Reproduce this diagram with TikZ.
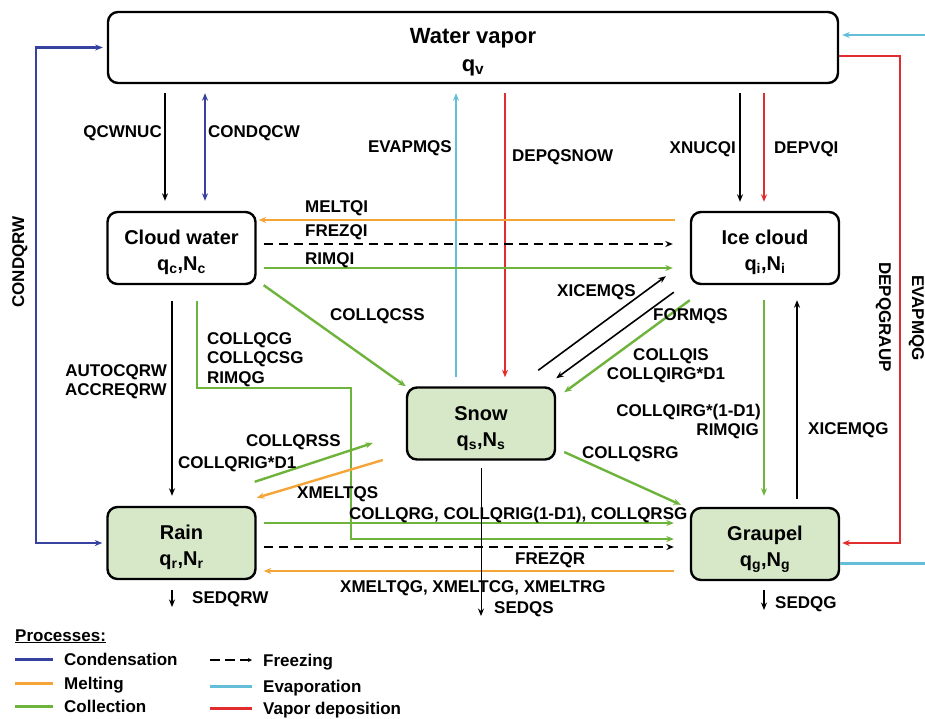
\documentclass[tikz,border=0pt]{standalone}
\usepackage{fontspec}
\setmainfont{Liberation Sans}
\usetikzlibrary{arrows.meta,calc}

\definecolor{condblue}{RGB}{55,65,160}
\definecolor{meltorange}{RGB}{245,165,55}
\definecolor{collgreen}{RGB}{110,180,60}
\definecolor{evapblue}{RGB}{100,190,215}
\definecolor{depored}{RGB}{225,45,45}
\definecolor{boxgreen}{RGB}{214,232,200}

% title line and q,N line of a species box
\newcommand{\species}[2]{\rule{0pt}{28pt}#1\\q\textsubscript{#2},N\textsubscript{#2}\rule[-9pt]{0pt}{9pt}}

\tikzset{
  box/.style={draw, line width=2.4pt, rounded corners=10pt, align=center, inner ysep=0pt,
    minimum width=148pt, minimum height=72pt, font=\bfseries\fontsize{20}{26}\selectfont},
  gbox/.style={box, fill=boxgreen},
  lab/.style={font=\bfseries\fontsize{17}{20}\selectfont, inner sep=0pt, text height=12pt, text depth=0pt},
  tip/.style={-{Stealth[length=7.5pt,width=6pt]}},
  btip/.style={{Stealth[length=7.5pt,width=6pt]}-{Stealth[length=7.5pt,width=6pt]}},
  blk/.style={tip, line width=1.6pt},
  sed/.style={tip, line width=1pt},
  cond/.style={tip, line width=2.4pt, condblue},
  melt/.style={tip, line width=2.4pt, meltorange},
  coll/.style={tip, line width=2.4pt, collgreen},
  evap/.style={tip, line width=2.4pt, evapblue},
  depo/.style={tip, line width=2.4pt, depored},
  frez/.style={tip, line width=1.8pt, dash pattern=on 9pt off 6pt}
}

\begin{document}
\begin{tikzpicture}[x=1pt,y=-1pt]
\useasboundingbox (0,0) rectangle (925,718);

% species
\node[box, minimum width=730pt, minimum height=71pt, font=\bfseries\fontsize{22}{28}\selectfont] (wv) at (473,47.5)
  {\rule{0pt}{28pt}Water vapor\\q\textsubscript{v}\rule[-9pt]{0pt}{9pt}};
\node[box] (cw) at (181.5,248) {\species{Cloud water}{c}};
\node[box] (ic) at (765,248) {\species{Ice cloud}{i}};
\node[gbox] (sn) at (481,423.5) {\species{Snow}{s}};
\node[gbox] (rn) at (181.5,543) {\species{Rain}{r}};
\node[gbox] (gr) at (765,544) {\species{Graupel}{g}};

\coordinate (qcg) at (351,388);
\coordinate (cqrw) at (36,47.5);
\coordinate (dgr) at (900,543);
\coordinate (eg1) at (925,563.5);
\coordinate (eg2) at (925,35);
\coordinate (sedqs) at (481,616);
\coordinate (sedqrw) at (172,607);
\coordinate (sedqg) at (764,610);

% vapor <-> cloud water / snow / ice
\draw[blk] ($(cw.north |- wv.south)+(-16.5,9)$) -- ([shift={(-16.5,-10)}]cw.north);
\draw[cond,btip] ($(cw.north |- wv.south)+(23.5,9)$) -- ([shift={(23.5,-10)}]cw.north);
\draw[evap] ([shift={(-25,-9)}]sn.north) -- ($(sn.north |- wv.south)+(-25,9)$);
\draw[depo] ($(sn.north |- wv.south)+(24,9)$) -- ([shift={(24,-9)}]sn.north);
\draw[blk] ($(ic.north |- wv.south)+(-25,9)$) -- ([shift={(-25,-9)}]ic.north);
\draw[depo] ($(ic.north |- wv.south)+(-1,9)$) -- ([shift={(-1,-9)}]ic.north);

% cloud water <-> ice
\draw[melt] ([shift={(-15,-28)}]ic.west) -- ([shift={(2,-28)}]cw.east);
\draw[frez] ([shift={(7,-4)}]cw.east) -- ([shift={(-17,-4)}]ic.west);
\draw[coll] ([shift={(7,20)}]cw.east) -- ([shift={(-17,20)}]ic.west);

% cloud water -> snow, graupel, rain
\draw[coll] ([shift={(7,0)}]cw.south east) -- (sn.north west);
\draw[coll] ([shift={(15.5,16)}]cw.south) |- (qcg) |- ([shift={(-16,-5)}]gr.west);
\draw[blk] ([shift={(-9.5,16)}]cw.south) -- ([shift={(-9.5,-10)}]rn.north);

% rain <-> snow, graupel
\draw[coll] ([shift={(-2,-24)}]rn.north east) -- ([shift={(-33,19.5)}]sn.west);
\draw[melt] ([shift={(-23,36.5)}]sn.west) -- ([shift={(0,-8)}]rn.north east);
\draw[coll] ([shift={(7,-20)}]rn.east) -- ([shift={(-16,-21)}]gr.west);
\draw[frez] ([shift={(7,4)}]rn.east) -- ([shift={(-16,3)}]gr.west);
\draw[melt] ([shift={(-16,27)}]gr.west) -- ([shift={(7,28)}]rn.east);

% ice <-> snow, graupel
\draw[blk] ([shift={(-18,-16)}]sn.north east) -- ([shift={(-24,-9)}]ic.south west);
\draw[blk] ([shift={(-16,7)}]ic.south west) -- ([shift={(0,-8)}]sn.north east);
\draw[coll] ([shift={(0,15)}]ic.south west) -- ([shift={(8,6)}]sn.north east);
\draw[coll] ([shift={(-1,15)}]ic.south) -- ([shift={(-1,-11)}]gr.north);
\draw[blk] ([shift={(32,-8)}]gr.north) -- ([shift={(32,15)}]ic.south);
\draw[coll] ([shift={(8,28.5)}]sn.east) -- ([shift={(-9,-2)}]gr.north west);

% outer loops
\draw[cond,btip] ([xshift=-4pt]rn.west) -| (cqrw) -- ([xshift=-4pt]wv.west);
\draw[depo] ([shift={(0,8.5)}]wv.east) -| (dgr) -- ([shift={(2,-1)}]gr.east);
\draw[evap,-] ([shift={(0,19.5)}]gr.east) -- (eg1);
\draw[evap] (eg2) -- ([shift={(3,-12.5)}]wv.east);

% sedimentation
\draw[sed] ([shift={(0,7)}]sn.south) -- (sedqs);
\draw[blk] ([shift={(-9.5,10)}]rn.south) -- (sedqrw);
\draw[blk] ([shift={(-1,9)}]gr.south) -- (sedqg);

% labels
\node[lab, anchor=east] (l-qcwnuc) at (162,131) {QCWNUC};
\node[lab, anchor=west] (l-condqcw) at (208,131) {CONDQCW};
\node[lab, anchor=east] (l-evapmqs) at (452,146) {EVAPMQS};
\node[lab, anchor=west] (l-depqsnow) at (512,155) {DEPQSNOW};
\node[lab, anchor=east] (l-xnucqi) at (736,147) {XNUCQI};
\node[lab, anchor=west] (l-depvqi) at (774,147) {DEPVQI};
\node[lab, anchor=west] (l-meltqi) at (305,206) {MELTQI};
\node[lab, anchor=west] (l-frezqi) at (305,230) {FREZQI};
\node[lab, anchor=west] (l-rimqi) at (305,258) {RIMQI};
\node[lab, anchor=west] (l-collqcss) at (330,314) {COLLQCSS};
\node[lab, anchor=west] (l-collqcg) at (207,338) {COLLQCG};
\node[lab, anchor=west] (l-collqcsg) at (207,357) {COLLQCSG};
\node[lab, anchor=west] (l-rimqg) at (207,377) {RIMQG};
\node[lab, anchor=east] (l-autocqrw) at (167,370) {AUTOCQRW};
\node[lab, anchor=east] (l-accreqrw) at (167,389) {ACCREQRW};
\node[lab, anchor=west] (l-collqrss) at (246,440) {COLLQRSS};
\node[lab, anchor=west] (l-collqrigd) at (178,462) {COLLQRIG*D1};
\node[lab, anchor=west] (l-xmeltqs) at (297,492) {XMELTQS};
\node[lab, anchor=west] (l-collqrg) at (349,513) {COLLQRG, COLLQRIG(1-D1), COLLQRSG};
\node[lab, anchor=west] (l-frezqr) at (515,558) {FREZQR};
\node[lab, anchor=west] (l-xmeltqg) at (340,586) {XMELTQG, XMELTCG, XMELTRG};
\node[lab, anchor=west] (l-sedqs) at (494,607) {SEDQS};
\node[lab, anchor=west] (l-sedqrw) at (192,597) {SEDQRW};
\node[lab, anchor=west] (l-sedqg) at (775,602) {SEDQG};
\node[lab, anchor=west] (l-xicemqs) at (557,290) {XICEMQS};
\node[lab, anchor=west] (l-formqs) at (653,314) {FORMQS};
\node[lab] (l-collqis) at (671,354) {COLLQIS};
\node[lab] (l-collqirgd) at (666,373) {COLLQIRG*D1};
\node[lab, anchor=east] (l-collqirg) at (761,410) {COLLQIRG*(1-D1)};
\node[lab, anchor=east] (l-rimqig) at (759,429) {RIMQIG};
\node[lab, anchor=west] (l-xicemqg) at (808,428) {XICEMQG};
\node[lab, anchor=west] (l-collqsrg) at (582,452) {COLLQSRG};
\node[lab, rotate=90] (l-condqrw) at (18,262) {CONDQRW};
\node[lab, rotate=-90] (l-depqgraup) at (885,317) {DEPQGRAUP};
\node[lab, rotate=-90] (l-evapmqg) at (918,318) {EVAPMQG};

% legend
\node[lab, anchor=west] (l-proc) at (15,635) {\underline{Processes:}};
\foreach \y/\sty/\txt in {659/cond/Condensation, 683/melt/Melting, 706/coll/Collection} {
  \draw[\sty, -, line width=3pt] (15,\y) -- (53,\y);
  \node[lab, anchor=west] (leg\y) at (64,\y) {\txt};
}
\foreach \y/\sty/\txt in {660/frez/Freezing, 686/evap/Evaporation, 708/depo/Vapor deposition} {
  \node[lab, anchor=west] (legb\y) at (263,\y) {\txt};
}
\draw[frez, line width=2pt, dash pattern=on 10pt off 5pt, -{Stealth[length=4pt,width=4pt]}] (210,660) -- (252,660);
\draw[evap, -, line width=3pt] (210,686) -- (252,686);
\draw[depo, -, line width=3pt] (210,708) -- (252,708);
\end{tikzpicture}
\end{document}
